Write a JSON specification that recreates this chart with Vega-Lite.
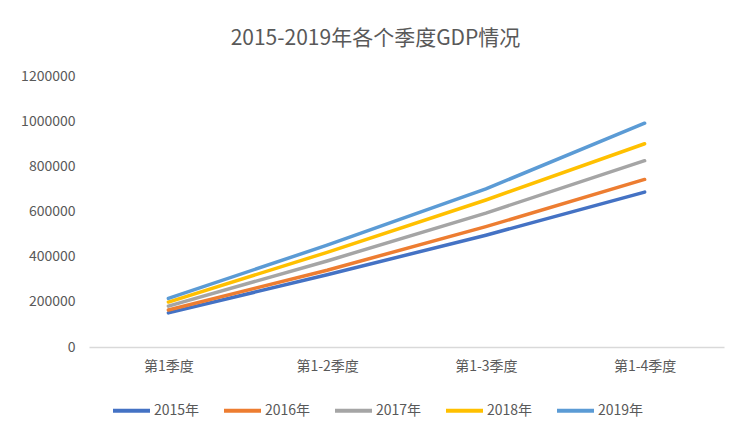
{
  "$schema": "https://vega.github.io/schema/vega-lite/v6.json",
  "width": 635,
  "height": 271,
  "autosize": {"type": "none"},
  "padding": {"left": 89, "top": 76, "right": 26, "bottom": 96},
  "background": "white",
  "title": {
    "text": "2015-2019年各个季度GDP情况",
    "font": "Noto Sans CJK SC",
    "fontSize": 21,
    "fontWeight": "normal",
    "color": "#595959",
    "anchor": "middle",
    "dx": -31,
    "offset": 20
  },
  "data": {
    "values": [
      {"period": "第1季度", "year": "2015年", "gdp": 151000},
      {"period": "第1-2季度", "year": "2015年", "gdp": 320000},
      {"period": "第1-3季度", "year": "2015年", "gdp": 495000},
      {"period": "第1-4季度", "year": "2015年", "gdp": 686000},
      {"period": "第1季度", "year": "2016年", "gdp": 164000},
      {"period": "第1-2季度", "year": "2016年", "gdp": 340000},
      {"period": "第1-3季度", "year": "2016年", "gdp": 533000},
      {"period": "第1-4季度", "year": "2016年", "gdp": 742000},
      {"period": "第1季度", "year": "2017年", "gdp": 181000},
      {"period": "第1-2季度", "year": "2017年", "gdp": 381000},
      {"period": "第1-3季度", "year": "2017年", "gdp": 593000},
      {"period": "第1-4季度", "year": "2017年", "gdp": 825000},
      {"period": "第1季度", "year": "2018年", "gdp": 199000},
      {"period": "第1-2季度", "year": "2018年", "gdp": 419000},
      {"period": "第1-3季度", "year": "2018年", "gdp": 651000},
      {"period": "第1-4季度", "year": "2018年", "gdp": 900000},
      {"period": "第1季度", "year": "2019年", "gdp": 215000},
      {"period": "第1-2季度", "year": "2019年", "gdp": 451000},
      {"period": "第1-3季度", "year": "2019年", "gdp": 700000},
      {"period": "第1-4季度", "year": "2019年", "gdp": 991000}
    ]
  },
  "mark": {"type": "line", "strokeWidth": 3.5, "strokeCap": "round", "strokeJoin": "round"},
  "encoding": {
    "x": {
      "field": "period",
      "type": "ordinal",
      "sort": ["第1季度", "第1-2季度", "第1-3季度", "第1-4季度"],
      "scale": {"type": "point", "padding": 0.5},
      "axis": {
        "title": null,
        "labelAngle": 0,
        "labelFont": "Noto Sans CJK SC",
        "labelFontSize": 14,
        "labelColor": "#595959",
        "labelPadding": 12,
        "ticks": false,
        "domainColor": "#d9d9d9",
        "domainWidth": 1.5,
        "grid": false
      }
    },
    "y": {
      "field": "gdp",
      "type": "quantitative",
      "scale": {"domain": [0, 1200000], "nice": false},
      "axis": {
        "title": null,
        "values": [0, 200000, 400000, 600000, 800000, 1000000, 1200000],
        "format": "d",
        "labelFont": "Noto Sans CJK SC",
        "labelFontSize": 14,
        "labelColor": "#595959",
        "labelPadding": 14,
        "ticks": false,
        "domain": false,
        "grid": false
      }
    },
    "color": {
      "field": "year",
      "type": "nominal",
      "scale": {
        "domain": ["2015年", "2016年", "2017年", "2018年", "2019年"],
        "range": ["#4472C4", "#ED7D31", "#A5A5A5", "#FFC000", "#5B9BD5"]
      },
      "legend": {
        "title": null,
        "orient": "none",
        "legendX": 22,
        "legendY": 314,
        "direction": "horizontal",
        "symbolType": "stroke",
        "symbolSize": 1369,
        "symbolStrokeWidth": 4,
        "labelFont": "Noto Sans CJK SC",
        "labelFontSize": 14,
        "labelColor": "#595959",
        "labelOffset": 2,
        "columnPadding": 16
      }
    }
  },
  "config": {
    "view": {"stroke": null}
  }
}
